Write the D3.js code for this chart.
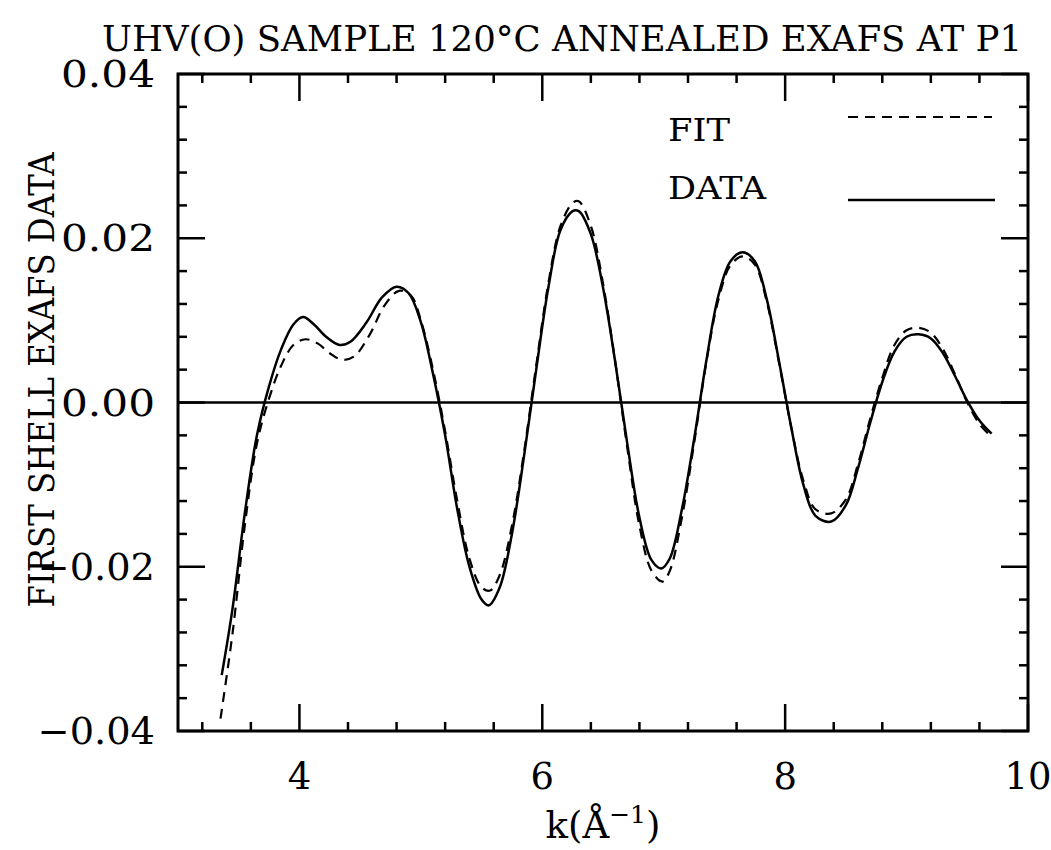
<!DOCTYPE html>
<html>
<head>
<meta charset="utf-8">
<script src="https://cdn.jsdelivr.net/npm/d3@7"></script>
<style>
  body { margin: 0; background: #fff; }
  text { font-family: "DejaVu Serif", "Liberation Serif", serif; fill: #000; }
</style>
</head>
<body>
<svg id="chart" width="1051" height="850"></svg>
<script>
// k values and chi(k)
var dataK = [3.36,3.45,3.55,3.65,3.75,3.85,3.95,4.03,4.12,4.22,4.33,4.42,4.55,4.68,4.80,4.90,5.00,5.10,5.20,5.30,5.40,5.50,5.56,5.65,5.75,5.85,5.95,6.05,6.15,6.25,6.30,6.40,6.50,6.60,6.70,6.80,6.90,6.98,7.05,7.15,7.25,7.35,7.45,7.55,7.65,7.75,7.85,7.95,8.05,8.15,8.25,8.38,8.50,8.60,8.70,8.80,8.90,9.00,9.10,9.20,9.30,9.40,9.50,9.60,9.70];
var dataV = [-0.0332,-0.025,-0.0135,-0.004,0.002,0.0065,0.0095,0.0104,0.0095,0.0080,0.0070,0.0074,0.0097,0.0128,0.0141,0.0133,0.0098,0.0035,-0.0040,-0.0130,-0.0200,-0.0240,-0.0247,-0.0225,-0.0160,-0.0065,0.0040,0.0140,0.0210,0.0233,0.0233,0.0205,0.0140,0.0050,-0.0050,-0.0140,-0.0192,-0.0202,-0.0190,-0.0130,-0.0045,0.0050,0.0130,0.0172,0.0183,0.0172,0.0125,0.0050,-0.0030,-0.0100,-0.0138,-0.0145,-0.0125,-0.0080,-0.0025,0.0025,0.0062,0.0080,0.0083,0.0078,0.0060,0.0032,0.0002,-0.0022,-0.0038];

var fitK = [3.35,3.45,3.55,3.65,3.75,3.85,3.95,4.05,4.15,4.25,4.35,4.45,4.58,4.70,4.82,4.92,5.00,5.10,5.20,5.30,5.40,5.50,5.57,5.65,5.75,5.85,5.95,6.05,6.15,6.25,6.30,6.40,6.50,6.60,6.70,6.80,6.90,6.99,7.05,7.15,7.25,7.35,7.45,7.55,7.65,7.75,7.85,7.95,8.05,8.15,8.25,8.38,8.50,8.60,8.70,8.80,8.90,9.00,9.10,9.20,9.30,9.40,9.50,9.60,9.70];
var fitV = [-0.0385,-0.028,-0.015,-0.005,0.0005,0.0045,0.0070,0.0077,0.0072,0.0060,0.0052,0.0056,0.0083,0.0118,0.0136,0.0130,0.0100,0.0040,-0.0035,-0.0120,-0.0190,-0.0225,-0.0229,-0.0210,-0.0150,-0.0060,0.0045,0.0145,0.0215,0.0243,0.0245,0.0215,0.0145,0.0050,-0.0055,-0.0150,-0.0205,-0.0218,-0.0205,-0.0140,-0.0050,0.0048,0.0125,0.0167,0.0178,0.0168,0.0122,0.0048,-0.0030,-0.0095,-0.0130,-0.0135,-0.0118,-0.0075,-0.0020,0.0030,0.0070,0.0088,0.0091,0.0085,0.0065,0.0034,0.0000,-0.0026,-0.0042];

var xMajor = [4, 6, 8, 10];
var yMajor = [-0.04, -0.02, 0.00, 0.02, 0.04];
var yLabels = ["\u22120.04", "\u22120.02", "0.00", "0.02", "0.04"];

var titleText = "UHV(O) SAMPLE 120\u00B0C ANNEALED EXAFS AT P1";
var yTitle = "FIRST SHELL EXAFS DATA";
var legendNames = ["FIT", "DATA"];

var svg = d3.select("#chart");
var pl = 178, pr = 1028, pt = 74, pb = 731;
var charW = 23.5; // the original plot font is monospaced

var x = d3.scaleLinear().domain([3, 10]).range([pl, pr]);
var y = d3.scaleLinear().domain([-0.04, 0.04]).range([pb, pt]);

var xMinor = d3.range(3.2, 10.0, 0.4).map(d => +d.toFixed(1)).filter(d => xMajor.indexOf(d) < 0);
var yMinor = d3.range(-9, 10).map(d => d * 0.004).filter(d => Math.abs(Math.round(d / 0.02) * 0.02 - d) > 1e-6);

var g = svg.append("g");

// ticks on all four sides, pointing inward
function xticks(vals, len, w) {
  vals.forEach(v => {
    g.append("line").attr("x1", x(v)).attr("x2", x(v)).attr("y1", pb).attr("y2", pb - len)
      .attr("stroke", "#000").attr("stroke-width", w);
    g.append("line").attr("x1", x(v)).attr("x2", x(v)).attr("y1", pt).attr("y2", pt + len)
      .attr("stroke", "#000").attr("stroke-width", w);
  });
}
xticks(xMinor, 9, 2.5);
xticks(xMajor, 27, 2.5);

function yticks(vals, len, w) {
  vals.forEach(v => {
    g.append("line").attr("x1", pl).attr("x2", pl + len).attr("y1", y(v)).attr("y2", y(v))
      .attr("stroke", "#000").attr("stroke-width", w);
    g.append("line").attr("x1", pr).attr("x2", pr - len).attr("y1", y(v)).attr("y2", y(v))
      .attr("stroke", "#000").attr("stroke-width", w);
  });
}
yticks(yMinor, 9, 2.5);
yticks(yMajor, 27, 2.5);

// frame
g.append("rect").attr("x", pl).attr("y", pt).attr("width", pr - pl).attr("height", pb - pt)
  .attr("fill", "none").attr("stroke", "#000").attr("stroke-width", 3);

// zero line
g.append("line").attr("x1", pl).attr("x2", pr).attr("y1", y(0)).attr("y2", y(0))
  .attr("stroke", "#000").attr("stroke-width", 2.5);

// tick labels
g.selectAll("text.xl").data(xMajor).join("text").attr("class", "xl")
  .attr("x", d => x(d)).attr("y", 789).attr("text-anchor", "middle")
  .attr("textLength", d => String(d).length * charW).attr("lengthAdjust", "spacingAndGlyphs")
  .style("font-size", "37px").text(d => d);

g.selectAll("text.yl").data(yMajor).join("text").attr("class", "yl")
  .attr("x", 155).attr("y", d => y(d) + 13).attr("text-anchor", "end")
  .attr("textLength", (d, i) => yLabels[i].length * charW).attr("lengthAdjust", "spacingAndGlyphs")
  .style("font-size", "37px").text((d, i) => yLabels[i]);

// curves
var line = d3.line().x(d => x(d[0])).y(d => y(d[1])).curve(d3.curveCatmullRom);
var dataPts = dataK.map((k, i) => [k, dataV[i]]);
var fitPts = fitK.map((k, i) => [k, fitV[i]]);

g.append("path").datum(fitPts).attr("d", line).attr("fill", "none")
  .attr("stroke", "#000").attr("stroke-width", 2.2).attr("stroke-dasharray", "10,7");
g.append("path").datum(dataPts).attr("d", line).attr("fill", "none")
  .attr("stroke", "#000").attr("stroke-width", 2.5);

// legend
g.append("text").attr("x", 668).attr("y", 141).attr("textLength", 62).attr("lengthAdjust", "spacingAndGlyphs")
  .style("font-size", "32px").text(legendNames[0]);
g.append("line").attr("x1", 848).attr("x2", 992).attr("y1", 117).attr("y2", 117)
  .attr("stroke", "#000").attr("stroke-width", 2.2).attr("stroke-dasharray", "10,7");
g.append("text").attr("x", 668).attr("y", 199).attr("textLength", 98).attr("lengthAdjust", "spacingAndGlyphs")
  .style("font-size", "32px").text(legendNames[1]);
g.append("line").attr("x1", 848).attr("x2", 995).attr("y1", 200).attr("y2", 200)
  .attr("stroke", "#000").attr("stroke-width", 2.5);

// titles
svg.append("text").attr("x", 102).attr("y", 51).attr("textLength", 920).attr("lengthAdjust", "spacingAndGlyphs")
  .style("font-size", "36px").text(titleText);

svg.append("text").attr("transform", "translate(54,380) rotate(-90)").attr("text-anchor", "middle")
  .attr("textLength", 455).attr("lengthAdjust", "spacingAndGlyphs")
  .style("font-size", "36px").text(yTitle);

var xt = svg.append("text").attr("x", 603).attr("y", 838).attr("text-anchor", "middle").style("font-size", "37px");
xt.append("tspan").text("k(\u00C5");
xt.append("tspan").attr("dy", -15).style("font-size", "25px").text("\u22121");
xt.append("tspan").attr("dy", 15).text(")");
</script>
</body>
</html>
